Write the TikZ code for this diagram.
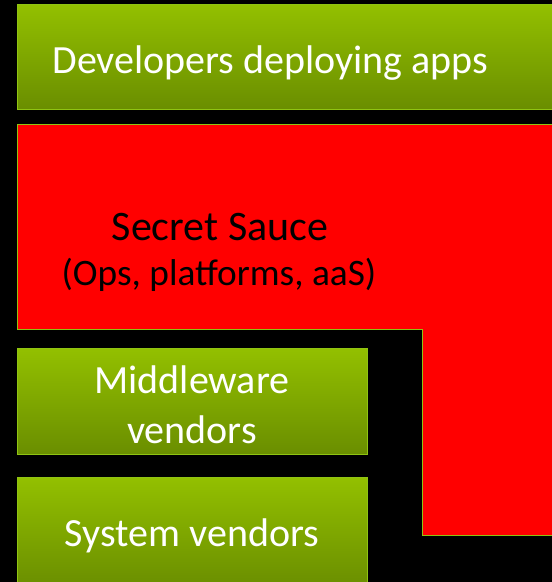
\documentclass[tikz,border=0pt]{standalone}
\usepackage{fontspec}
\setmainfont{Carlito}
\definecolor{greentop}{HTML}{93C000}
\definecolor{greenbot}{HTML}{6A8E00}
\definecolor{greenedge}{HTML}{8FC412}
\definecolor{sauce}{HTML}{FF0000}

\begin{document}
\begin{tikzpicture}[x=0.75pt,y=0.75pt,yscale=-1,xscale=1,
  greenbox/.style={draw=greenedge, line width=0.75pt, top color=greentop, bottom color=greenbot, inner sep=0pt},
  whitetext/.style={text=white, font=\fontsize{30}{37.5}\selectfont, align=center},
  blacktext/.style={text=black, font=\fontsize{31.5}{36}\selectfont, align=center}]

% Background
\fill[black] (0,0) rectangle (552,582);
\useasboundingbox (0,0) rectangle (552,582);
\clip (0,0) rectangle (552,582);

% Green box: developers
\node[greenbox, minimum width=545*0.75pt, minimum height=105*0.75pt] (devbox) at (289.5,56.5) {};
\node[whitetext] (devtext) at (270.5,63) {Developers deploying apps};

% Red secret sauce shape
\draw[draw=greenedge, line width=0.75pt, fill=sauce] (17,124) -- (562,124) -- (562,535) -- (422,535) -- (422,329) -- (17,329) -- cycle;
\node[blacktext] (saucetext) at (220,227) {Secret Sauce};
\node[blacktext, font=\fontsize{28}{32}\selectfont] (opstext) at (219,275) {(Ops, platforms, aaS)};

% Green box: middleware
\node[greenbox, minimum width=350*0.75pt, minimum height=106*0.75pt] (midbox) at (192,401) {};
\node[whitetext] (midtext) at (192,405) {Middleware\\vendors};

% Green box: system
\node[greenbox, minimum width=350*0.75pt, minimum height=110*0.75pt] (sysbox) at (192,532) {};
\node[whitetext] (systext) at (192,536) {System vendors};

\end{tikzpicture}
\end{document}
